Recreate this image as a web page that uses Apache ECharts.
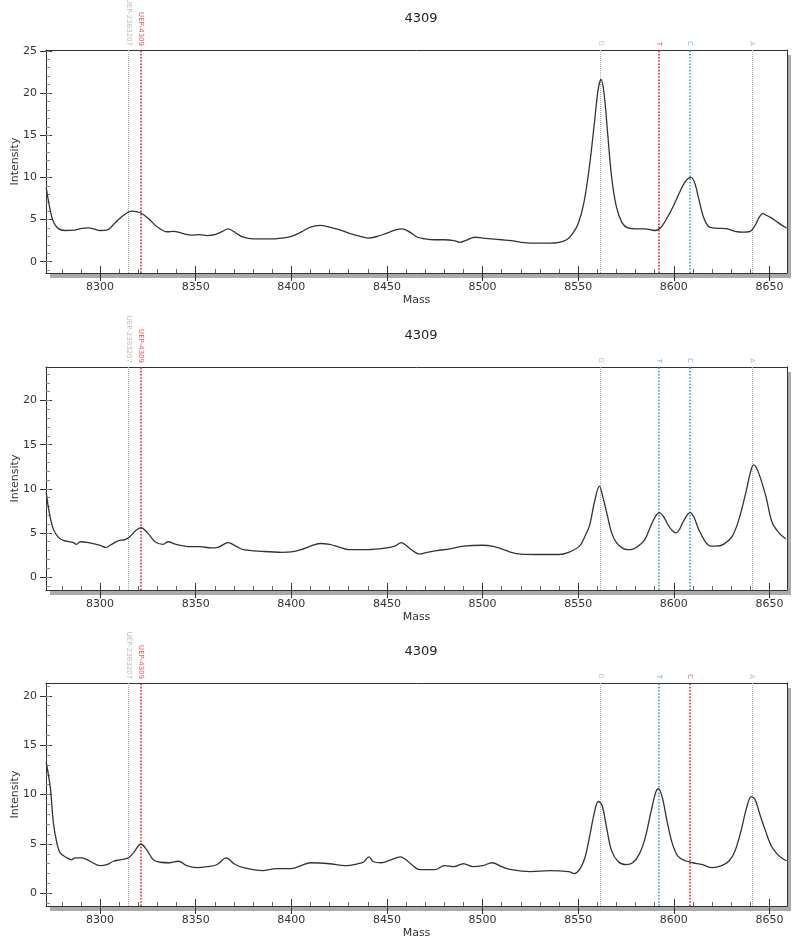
<!DOCTYPE html>
<html>
<head>
<meta charset="utf-8">
<script src="https://cdn.jsdelivr.net/npm/echarts@6/dist/echarts.min.js"></script>
<style>
  html, body { margin: 0; padding: 0; background: #fff; }
  #massChart { width: 800px; height: 946px; }
</style>
</head>
<body>
<div id="massChart"></div>
<script>
// ---- data ----
const titles = ["4309", "4309", "4309"];

const massA = [8271.8, 8273.9, 8275.6, 8278, 8281.5, 8287, 8290.5, 8294, 8296.5, 8300, 8303.5, 8307.8, 8312.2, 8316.6, 8321, 8325.4, 8329.8, 8335, 8338.5, 8343, 8348, 8352, 8356, 8360, 8364, 8367, 8371, 8375, 8380, 8388, 8395, 8400, 8405, 8410, 8415, 8420, 8425, 8430, 8436, 8440, 8445, 8450, 8455, 8458, 8462, 8466, 8470, 8475, 8480, 8485, 8488, 8492, 8496, 8500, 8505, 8510, 8515, 8520, 8525, 8530, 8535, 8540, 8544, 8547, 8550, 8553, 8556, 8558.5, 8560.5, 8562, 8563.5, 8565.5, 8567.5, 8570, 8573, 8576, 8580, 8585, 8590, 8593, 8596, 8600, 8603, 8606, 8609, 8611, 8613, 8615.5, 8618, 8620.5, 8624, 8628, 8632, 8636, 8640, 8642.5, 8644.5, 8646.5, 8648.5, 8651, 8653.5, 8656, 8659];
const intensityA = [8.8, 6.1, 4.7, 3.95, 3.7, 3.75, 3.95, 4.0, 3.9, 3.7, 3.75, 4.6, 5.5, 6.0, 5.8, 5.1, 4.15, 3.55, 3.6, 3.35, 3.15, 3.2, 3.1, 3.2, 3.6, 3.9, 3.4, 2.9, 2.7, 2.7, 2.8, 3.0, 3.5, 4.1, 4.3, 4.1, 3.8, 3.4, 3.0, 2.8, 3.0, 3.4, 3.8, 3.9, 3.5, 2.9, 2.7, 2.6, 2.6, 2.5, 2.3, 2.6, 2.9, 2.8, 2.7, 2.6, 2.5, 2.3, 2.2, 2.2, 2.2, 2.3, 2.6, 3.3, 4.5, 7.0, 11.5, 16.5, 20.5, 21.6, 20.0, 15.0, 10.0, 6.5, 4.6, 4.0, 3.9, 3.9, 3.7, 4.0, 5.0, 6.7, 8.2, 9.5, 10.0, 9.3, 7.5, 5.3, 4.2, 4.0, 3.95, 3.9, 3.6, 3.5, 3.6, 4.3, 5.2, 5.7, 5.5, 5.2, 4.8, 4.4, 4.0];

const massB = [8271.8, 8273.5, 8275.6, 8278.2, 8280.8, 8286, 8287.6, 8289.7, 8293.9, 8300, 8303, 8305.2, 8309.4, 8313, 8315.7, 8318.8, 8321.4, 8323.5, 8326, 8328.7, 8332.9, 8335.5, 8339.7, 8347, 8352, 8358, 8362, 8367, 8371, 8375, 8385, 8395, 8400, 8405, 8410, 8415, 8420, 8425, 8430, 8440, 8450, 8454, 8457.5, 8461, 8464, 8467, 8471, 8476, 8483, 8490, 8500, 8505, 8510, 8515, 8520, 8530, 8540, 8545, 8550.7, 8553.5, 8555.9, 8558.5, 8561.1, 8563, 8565, 8567.5, 8570, 8573, 8575.7, 8579, 8582, 8585, 8588, 8590.5, 8592.4, 8594.5, 8597, 8599, 8601.1, 8603, 8605, 8608.5, 8610.5, 8613, 8616.8, 8619.5, 8622, 8626, 8630.5, 8634, 8637.7, 8640, 8641.7, 8644, 8648.1, 8651.4, 8655, 8658.6];
const intensityB = [9.6, 7.2, 5.4, 4.5, 4.15, 3.9, 3.7, 4.0, 3.9, 3.6, 3.35, 3.6, 4.1, 4.25, 4.6, 5.3, 5.6, 5.3, 4.7, 4.0, 3.7, 4.0, 3.7, 3.45, 3.45, 3.3, 3.4, 3.9, 3.5, 3.1, 2.9, 2.8, 2.85, 3.1, 3.5, 3.8, 3.7, 3.4, 3.1, 3.1, 3.3, 3.5, 3.9, 3.4, 2.9, 2.6, 2.8, 3.0, 3.2, 3.5, 3.6, 3.5, 3.2, 2.8, 2.6, 2.55, 2.55, 2.8, 3.5, 4.6, 5.8, 8.5, 10.3, 9.0, 7.2, 5.0, 3.9, 3.3, 3.1, 3.2, 3.6, 4.3, 5.8, 6.9, 7.3, 6.9, 5.9, 5.3, 5.0, 5.4, 6.3, 7.3, 6.8, 5.4, 3.9, 3.5, 3.5, 3.7, 4.6, 6.5, 9.6, 11.8, 12.7, 12.0, 9.2, 6.2, 5.0, 4.3];

const massC = [8271.8, 8273.9, 8275.6, 8277.4, 8279.1, 8282.6, 8285.2, 8286.9, 8290.4, 8294.8, 8300, 8303.5, 8306.9, 8310.4, 8314.8, 8317.4, 8321.4, 8324.4, 8327.8, 8331.3, 8336.6, 8340.9, 8345.3, 8350.5, 8356, 8361, 8366, 8370, 8375, 8385, 8392, 8400, 8405, 8410, 8420, 8428, 8435, 8438, 8440.5, 8443, 8447, 8452, 8457, 8460, 8463, 8467, 8475, 8480, 8485, 8490, 8495, 8500, 8505, 8510, 8515, 8525, 8535, 8545, 8548, 8551, 8553.5, 8556, 8558.5, 8560.5, 8562.5, 8565, 8567.5, 8571, 8575, 8578.5, 8582, 8585, 8588, 8590.5, 8592, 8594, 8596.5, 8599, 8602, 8606, 8610, 8615, 8620, 8625, 8629, 8632, 8635, 8638, 8640.5, 8642.5, 8645, 8648, 8651, 8654, 8657, 8659];
const intensityC = [13.3, 10.8, 7.1, 5.1, 4.1, 3.6, 3.4, 3.6, 3.6, 3.25, 2.8, 2.9, 3.25, 3.4, 3.6, 4.1, 5.0, 4.4, 3.4, 3.15, 3.1, 3.25, 2.8, 2.6, 2.7, 2.9, 3.6, 3.0, 2.6, 2.3, 2.5, 2.5, 2.8, 3.1, 3.0, 2.8, 3.0, 3.2, 3.7, 3.2, 3.1, 3.4, 3.7, 3.4, 2.9, 2.4, 2.4, 2.8, 2.7, 3.0, 2.7, 2.8, 3.1, 2.7, 2.4, 2.2, 2.3, 2.2, 2.0, 2.5, 3.6, 5.8, 8.2, 9.3, 8.9, 6.5, 4.3, 3.2, 2.9, 3.1, 4.0, 5.6, 8.2, 10.2, 10.6, 9.7, 7.3, 5.2, 3.8, 3.3, 3.1, 2.9, 2.6, 2.8, 3.3, 4.3, 6.2, 8.6, 9.8, 9.5, 8.0, 6.3, 4.8, 4.0, 3.5, 3.3];

// marker lines (mass, label) and colour per panel
const markerMass = [8314.8, 8321.4, 8561.6, 8592, 8608.6, 8641];
const markerText = ["UEP-2383207", "UEP-4309", "G", "T", "C", "A"];
const markerColorA = ["gray", "red", "gray", "red", "blue", "gray"];
const markerColorB = ["gray", "red", "gray", "blue", "blue", "gray"];
const markerColorC = ["gray", "red", "gray", "blue", "red", "gray"];

// axis ranges and tick labels
const massRange = [8271.7, 8659.2];
const massTicks = [8300, 8350, 8400, 8450, 8500, 8550, 8600, 8650];
const yRangeA = [-1.34, 25.1];
const yRangeB = [-1.47, 23.8];
const yRangeC = [-1.28, 21.3];
const yTicksA = [0, 5, 10, 15, 20, 25];
const yTicksB = [0, 5, 10, 15, 20];
const yTicksC = [0, 5, 10, 15, 20];

// ---- chart ----
const colorMap = { gray: "#ababab", red: "#e3262b", blue: "#3b9ade" };
const gridTops = [50, 367, 683];
const gridHeight = 223;
const fontFamily = "DejaVu Sans";

const panels = [
  { mass: massA, value: intensityA, colors: markerColorA, yRange: yRangeA, yTicks: yTicksA },
  { mass: massB, value: intensityB, colors: markerColorB, yRange: yRangeB, yTicks: yTicksB },
  { mass: massC, value: intensityC, colors: markerColorC, yRange: yRangeC, yTicks: yTicksC },
];

// minor tick positions
const massMinor = [];
for (let m = 8280; m <= 8650; m += 10) {
  if (m % 50 !== 0) massMinor.push(m);
}
function intTicks(range) {
  let out = [];
  for (let v = Math.ceil(range[0]); v <= Math.floor(range[1]); v++) out.push(v);
  return out;
}

const AX = 5; // axes per grid and direction
const grid = [], xAxis = [], yAxis = [], series = [], title = [];

panels.forEach((p, i) => {
  grid.push({
    left: 46, top: gridTops[i], right: 13, height: gridHeight,
    outerBoundsMode: "none", containLabel: false,
    show: true, backgroundColor: "#fff", borderWidth: 0,
    shadowColor: "rgba(0,0,0,0.33)", shadowBlur: 0, shadowOffsetX: 4, shadowOffsetY: 5,
  });
  title.push({
    text: titles[i], left: 416, top: gridTops[i] - 43, textAlign: "center",
    textStyle: { fontFamily: fontFamily, fontSize: 13, fontWeight: "normal", color: "#222" },
  });

  const xBase = { gridIndex: i, type: "value", min: massRange[0], max: massRange[1], splitLine: { show: false } };
  // main x axis: labels + outer part of the major ticks
  xAxis.push(Object.assign({}, xBase, {
    position: "bottom",
    name: "Mass", nameLocation: "middle", nameGap: 22, nameMoveOverlap: false,
    nameTextStyle: { fontFamily: fontFamily, fontSize: 11, color: "#333" },
    axisLine: { onZero: false, lineStyle: { color: "#333", width: 1 } },
    axisTick: { customValues: massTicks, length: 8, lineStyle: { color: "#333" } },
    axisLabel: { customValues: massTicks, margin: 9, fontFamily: fontFamily, fontSize: 11, color: "#333",
      formatter: (v) => String(v) },
  }));
  // inner part of the major ticks
  xAxis.push(Object.assign({}, xBase, {
    position: "bottom",
    axisLine: { show: false, onZero: false },
    axisTick: { inside: true, customValues: massTicks, length: 7, lineStyle: { color: "#333" } },
    axisLabel: { show: false },
  }));
  // minor ticks
  xAxis.push(Object.assign({}, xBase, {
    position: "bottom",
    axisLine: { show: false, onZero: false },
    axisTick: { inside: true, customValues: massMinor, length: 4, lineStyle: { color: "#666" } },
    axisLabel: { show: false },
  }));
  // top frame line
  xAxis.push(Object.assign({}, xBase, {
    position: "top",
    axisLine: { show: true, onZero: false, lineStyle: { color: "#333", width: 1 } },
    axisTick: { show: false }, axisLabel: { show: false },
  }));
  xAxis.push(Object.assign({}, xBase, {
    position: "top",
    axisLine: { show: false, onZero: false },
    axisTick: { show: false }, axisLabel: { show: false },
  }));

  const yBase = { gridIndex: i, type: "value", min: p.yRange[0], max: p.yRange[1], splitLine: { show: false } };
  yAxis.push(Object.assign({}, yBase, {
    position: "left",
    name: "Intensity", nameLocation: "middle", nameGap: 25, nameMoveOverlap: false,
    nameTextStyle: { fontFamily: fontFamily, fontSize: 11, color: "#333" },
    axisLine: { show: true, onZero: false, lineStyle: { color: "#333", width: 1 } },
    axisTick: { show: true, customValues: p.yTicks, length: 6, lineStyle: { color: "#333" } },
    axisLabel: { customValues: p.yTicks, margin: 9, fontFamily: fontFamily, fontSize: 11, color: "#333" },
  }));
  yAxis.push(Object.assign({}, yBase, {
    position: "left",
    axisLine: { show: false, onZero: false },
    axisTick: { show: true, inside: true, customValues: p.yTicks, length: 6, lineStyle: { color: "#333" } },
    axisLabel: { show: false },
  }));
  yAxis.push(Object.assign({}, yBase, {
    position: "left",
    axisLine: { show: false, onZero: false },
    axisTick: { show: true, inside: true, customValues: intTicks(p.yRange), length: 4, lineStyle: { color: "#888" } },
    axisLabel: { show: false },
  }));
  // right frame line
  yAxis.push(Object.assign({}, yBase, {
    position: "right",
    axisLine: { show: true, onZero: false, lineStyle: { color: "#333", width: 1 } },
    axisTick: { show: false }, axisLabel: { show: false },
  }));
  yAxis.push(Object.assign({}, yBase, {
    position: "right",
    axisLine: { show: false, onZero: false },
    axisTick: { show: false }, axisLabel: { show: false },
  }));

  series.push({
    type: "line",
    xAxisIndex: i * AX, yAxisIndex: i * AX,
    data: p.mass.map((m, k) => [m, p.value[k]]),
    showSymbol: false, smooth: 0.35,
    lineStyle: { color: "#333", width: 1.3 },
    z: 5,
    markLine: {
      silent: true, symbol: ["none", "none"], label: { show: false },
      data: markerMass.map((m, k) => ({
        xAxis: m,
        lineStyle: {
          color: colorMap[p.colors[k]], type: "dotted",
          width: p.colors[k] === "gray" ? 1 : 1.6,
        },
      })),
    },
  });
  // rotated marker names above the plot
  series.push({
    type: "scatter",
    xAxisIndex: i * AX, yAxisIndex: i * AX,
    symbolSize: 0, silent: true,
    data: markerMass.map((m, k) => ({
      value: [m, p.yRange[1]], name: markerText[k],
      label: { color: colorMap[p.colors[k]] },
    })),
    label: {
      show: true, position: "top", distance: 4, rotate: -90,
      align: "right", verticalAlign: "middle",
      formatter: "{b}", fontFamily: fontFamily, fontSize: 7,
    },
  });
});

const massChart = echarts.init(document.getElementById("massChart"));
massChart.setOption({
  animation: false,
  backgroundColor: "#fff",
  title: title,
  grid: grid,
  xAxis: xAxis,
  yAxis: yAxis,
  series: series,
});
</script>
</body>
</html>
